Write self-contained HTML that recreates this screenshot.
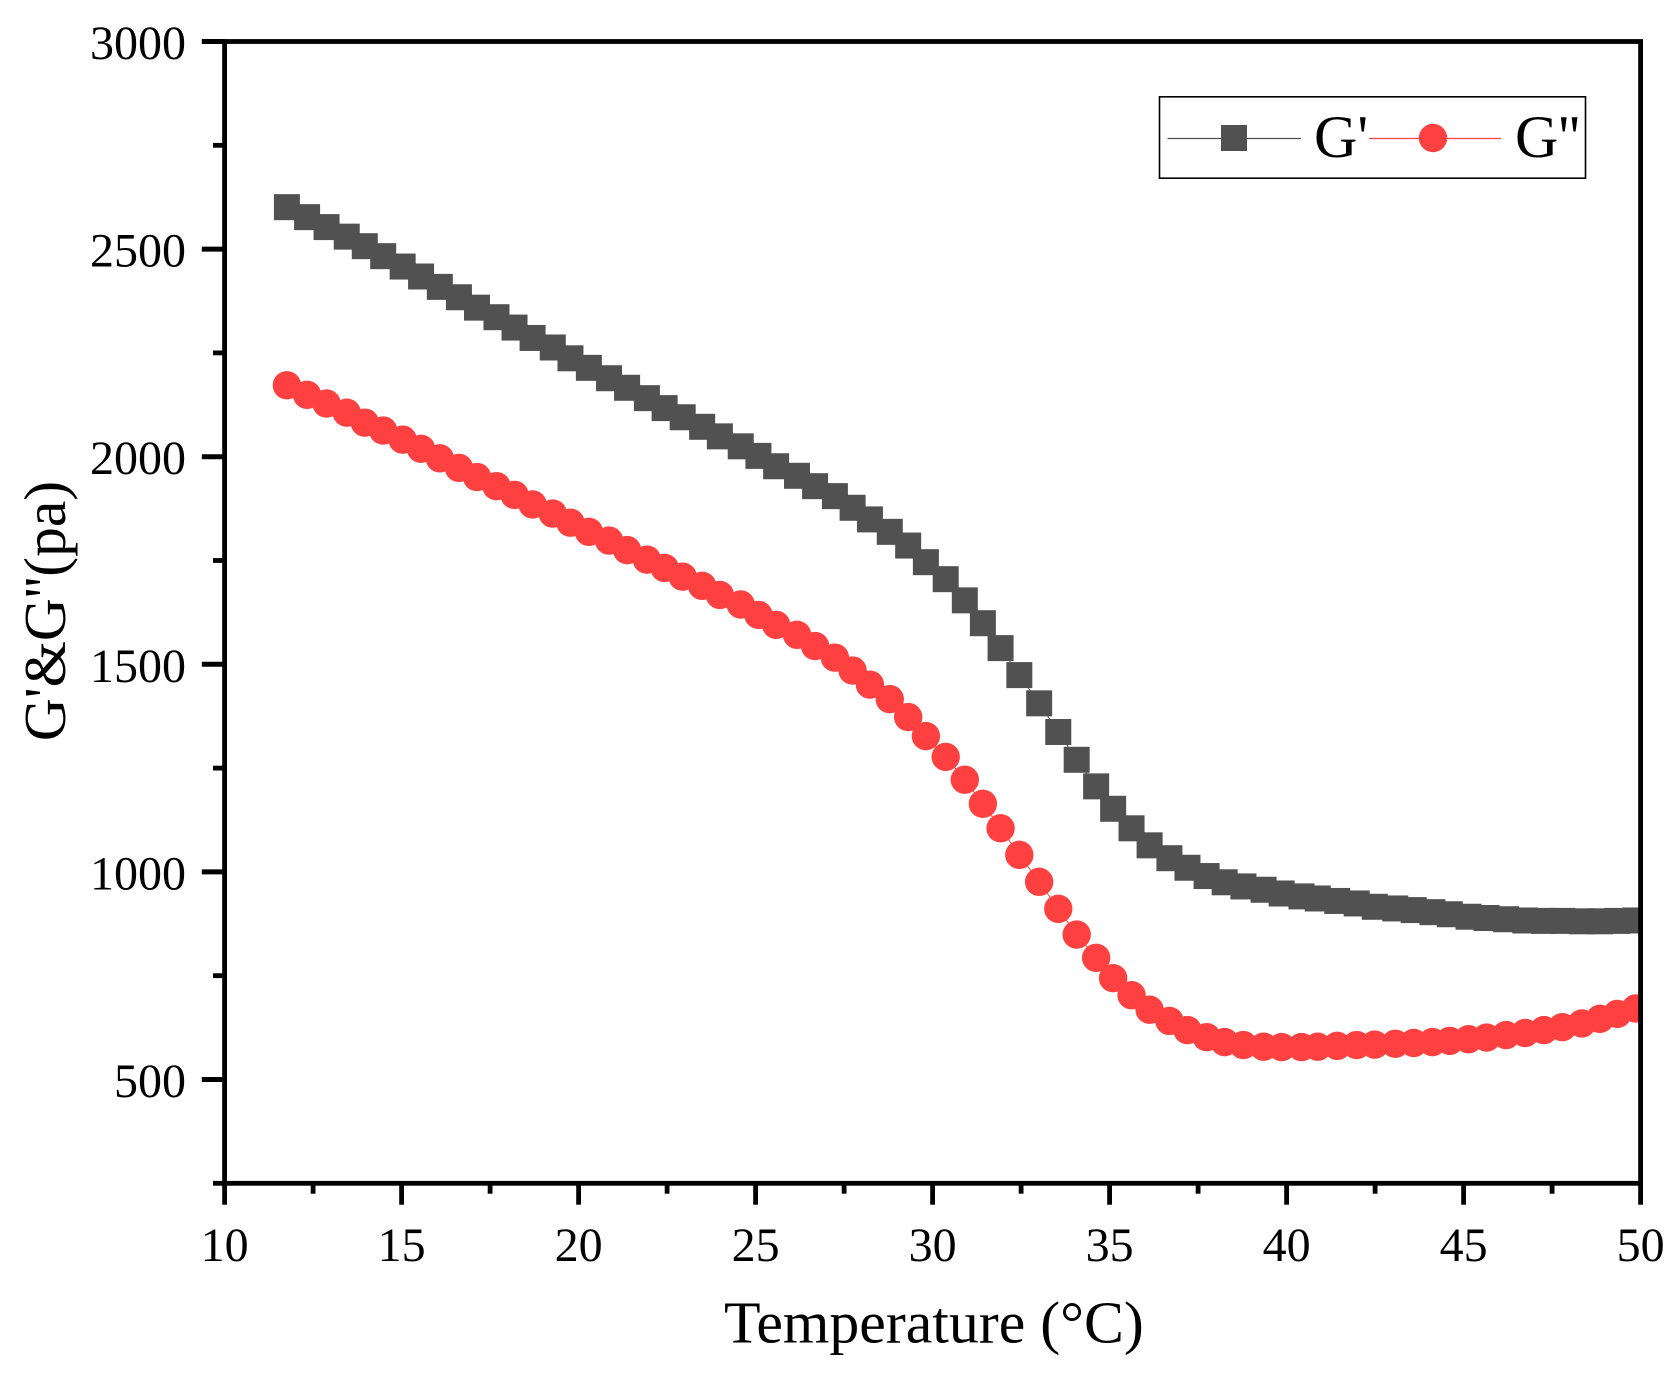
<!DOCTYPE html>
<html lang="en">
<head>
<meta charset="utf-8">
<title>G' and G'' versus temperature</title>
<style>
html,body{margin:0;padding:0;background:#fff;}
body{width:1677px;height:1374px;overflow:hidden;}
svg{display:block;}
text{font-family:"Liberation Serif",serif;fill:#000;}
</style>
</head>
<body>
<svg id="chart" width="1677" height="1374" viewBox="0 0 1677 1374" xmlns="http://www.w3.org/2000/svg">
  <defs>
    <clipPath id="plot-clip"><rect x="224" y="41" width="1417" height="1143"></rect></clipPath>
  </defs>
  <rect x="0" y="0" width="1677" height="1374" fill="#ffffff"></rect>
  <g id="series-layer" clip-path="url(#plot-clip)"></g>
  <g id="axis-layer"></g>

  <g>
    <rect x="1159.5" y="96.8" width="426" height="81.4" fill="#ffffff" stroke="#000" stroke-width="1.6"></rect>
    <line x1="1167.5" y1="138.5" x2="1301" y2="138.5" stroke="#515151" stroke-width="1.2"></line>
    <rect x="1221" y="125" width="26" height="26" fill="#515151"></rect>
    <text x="1314" y="157" font-size="60">G'</text>
    <line x1="1369" y1="138.5" x2="1501" y2="138.5" stroke="#ff4040" stroke-width="1.2"></line>
    <circle cx="1433" cy="138" r="14.2" fill="#ff4040"></circle>
    <text x="1515" y="157" font-size="60">G''</text>
  </g>

  <text x="724" y="1342.5" font-size="59.8">Temperature (°C)</text>
  <text transform="translate(65,611) rotate(-90)" text-anchor="middle" font-size="59.5">G'&amp;G''(pa)</text>
</svg>

<script>
const temperature = [
  11.76,12.33,12.88,13.45,13.96,14.48,15.03,15.55,16.08,16.62,
  17.13,17.68,18.19,18.70,19.27,19.77,20.29,20.86,21.37,21.93,
  22.43,22.94,23.49,23.99,24.58,25.08,25.58,26.17,26.68,27.24,
  27.74,28.23,28.79,29.31,29.81,30.37,30.91,31.42,31.92,32.45,
  33.01,33.55,34.07,34.62,35.10,35.62,36.13,36.69,37.20,37.74,
  38.25,38.78,39.35,39.86,40.42,40.88,41.43,41.98,42.49,43.07,
  43.59,44.12,44.61,45.14,45.65,46.20,46.74,47.27,47.79,48.34,
  48.85,49.34,49.86
];
const storageModulus = [
  2601,2577,2553,2530,2507,2483,2458,2434,2409,2384,
  2359,2336,2311,2286,2263,2237,2214,2189,2166,2141,
  2117,2095,2072,2049,2025,2002,1977,1954,1929,1905,
  1877,1849,1819,1786,1746,1705,1654,1599,1539,1474,
  1406,1337,1270,1206,1152,1105,1064,1033,1010,990,
  975,965,957,948,941,936,930,924,916,912,
  908,903,898,892,889,886,883,882,882,881,
  881,882,883
];
const lossModulus = [
  2172,2149,2128,2106,2082,2063,2041,2019,1996,1973,
  1951,1929,1908,1885,1863,1841,1819,1798,1775,1752,
  1732,1711,1689,1667,1644,1619,1595,1571,1544,1516,
  1485,1451,1416,1373,1327,1277,1222,1164,1105,1041,
  976,911,849,793,744,703,668,641,619,602,
  590,583,579,578,578,579,581,583,584,586,
  588,590,593,597,601,607,612,619,626,635,
  646,658,671
];
const xMajorTicks = [10,15,20,25,30,35,40,45,50];
const xMinorTicks = [12.5,17.5,22.5,27.5,32.5,37.5,42.5,47.5];
const yMajorTicks = [500,1000,1500,2000,2500,3000];
const yMinorTicks = [250,750,1250,1750,2250,2750];

const SVG_NS = 'http://www.w3.org/2000/svg';
const xScale = function (v) { return 224.6 + (v - 10) * 35.4; };
const yScale = function (v) { return 1183.3 - (v - 250) * 0.4152; };

const seriesLayer = document.getElementById('series-layer');
const axisLayer = document.getElementById('axis-layer');

function make(tag, attrs) {
  const el = document.createElementNS(SVG_NS, tag);
  Object.keys(attrs).forEach(function (k) { el.setAttribute(k, attrs[k]); });
  return el;
}

function linePath(values) {
  return values.map(function (v, i) {
    return (i ? 'L' : 'M') + xScale(temperature[i]).toFixed(2) + ' ' + yScale(v).toFixed(2);
  }).join(' ');
}

/* G' line and markers */
const gPrimeLine = make('path', { d: linePath(storageModulus), fill: 'none', stroke: '#515151', 'stroke-width': 1 });


seriesLayer.appendChild(gPrimeLine);

storageModulus.forEach(function (v, i) {
  const square = make('rect', {
    x: (xScale(temperature[i]) - 13).toFixed(2),
    y: (yScale(v) - 13).toFixed(2),
    width: 26, height: 26, fill: '#515151'
  });
  
  
  seriesLayer.appendChild(square);
});

/* G'' line and markers */
const gDoublePrimeLine = make('path', { d: linePath(lossModulus), fill: 'none', stroke: '#ff4040', 'stroke-width': 1 });


seriesLayer.appendChild(gDoublePrimeLine);

lossModulus.forEach(function (v, i) {
  const dot = make('circle', {
    cx: xScale(temperature[i]).toFixed(2),
    cy: yScale(v).toFixed(2),
    r: 14.2, fill: '#ff4040'
  });
  
  
  seriesLayer.appendChild(dot);
});

/* Frame */
const frame = make('rect', {
  x: xScale(10), y: yScale(3000),
  width: xScale(50) - xScale(10), height: yScale(250) - yScale(3000),
  fill: 'none', stroke: '#000', 'stroke-width': 4.8
});


axisLayer.appendChild(frame);

/* X ticks */
xMajorTicks.forEach(function (v) {
  const tick = make('line', { x1: xScale(v), x2: xScale(v), y1: yScale(250), y2: 1204.7, stroke: '#000', 'stroke-width': 4.8 });
  
  
  axisLayer.appendChild(tick);
  const label = make('text', { x: xScale(v), y: 1261, 'text-anchor': 'middle', 'font-size': 48 });
  
  
  label.textContent = String(v);
  axisLayer.appendChild(label);
});
xMinorTicks.forEach(function (v) {
  const tick = make('line', { x1: xScale(v), x2: xScale(v), y1: yScale(250), y2: 1193.7, stroke: '#000', 'stroke-width': 4.8 });
  
  
  axisLayer.appendChild(tick);
});

/* Y ticks */
yMajorTicks.forEach(function (v) {
  const tick = make('line', { x1: 201.8, x2: xScale(10), y1: yScale(v), y2: yScale(v), stroke: '#000', 'stroke-width': 5 });
  
  
  axisLayer.appendChild(tick);
  const label = make('text', { x: 186, y: yScale(v) + 17.5, 'text-anchor': 'end', 'font-size': 48 });
  
  
  label.textContent = String(v);
  axisLayer.appendChild(label);
});
yMinorTicks.forEach(function (v) {
  const tick = make('line', { x1: 213, x2: xScale(10), y1: yScale(v), y2: yScale(v), stroke: '#000', 'stroke-width': 4.8 });
  
  
  axisLayer.appendChild(tick);
});
</script>
</body>
</html>
